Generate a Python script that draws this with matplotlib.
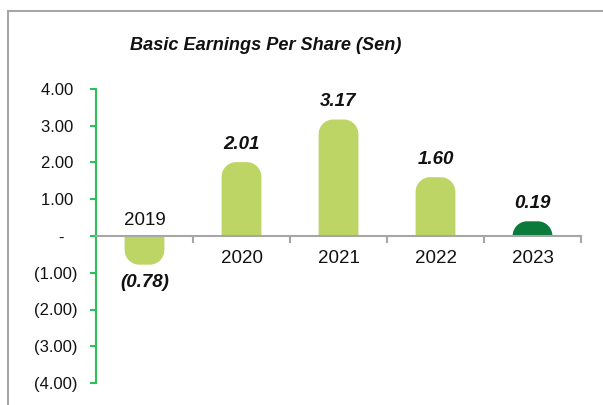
import numpy as np
import matplotlib.pyplot as plt
from matplotlib.patches import Polygon, Rectangle

plt.rcParams["font.family"] = ["Liberation Sans", "DejaVu Sans"]

years = ["2019", "2020", "2021", "2022", "2023"]
eps = [-0.78, 2.01, 3.17, 1.60, 0.19]
value_labels = ["(0.78)", "2.01", "3.17", "1.60", "0.19"]
y_ticks = [-4, -3, -2, -1, 0, 1, 2, 3, 4]
y_tick_labels = ["(4.00)", "(3.00)", "(2.00)", "(1.00)", "-   ", "1.00 ", "2.00 ", "3.00 ", "4.00 "]
bar_colors = ["#bcd565", "#bcd565", "#bcd565", "#bcd565", "#0b7a3b"]

W, H = 603, 405
fig = plt.figure(figsize=(W / 100, H / 100), dpi=100)
ax = fig.add_axes([96 / W, (H - 383) / H, (581 - 96) / W, (383 - 89) / H])
ax.set_xlim(-0.5, 4.5)
ax.set_ylim(-4, 4)

# outer chart frame (only left/top visible)
fig.patches.append(Rectangle((8 / W, -0.1), 1.2, (H - 11) / H + 0.1,
                             transform=fig.transFigure, fill=False,
                             edgecolor="#a6a6a6", linewidth=1.5))


def rounded_bar(x, h, color, w=0.41, rx=0.15, ry=0.4, min_h=0.4):
    s = 1 if h >= 0 else -1
    hh = max(abs(h), min_h)
    ry = min(ry, hh)
    left, right = x - w / 2, x + w / 2
    t = np.linspace(0, np.pi / 2, 24)
    cy = s * (hh - ry)
    pts = [(left, 0)]
    pts += list(zip(left + rx - rx * np.cos(t), cy + s * ry * np.sin(t)))
    pts += list(zip(right - rx + rx * np.cos(t[::-1]), cy + s * ry * np.sin(t[::-1])))
    pts += [(right, 0)]
    ax.add_patch(Polygon(pts, closed=True, facecolor=color, edgecolor="none", zorder=2))
    return s * hh


for i, (v, lab, c) in enumerate(zip(eps, value_labels, bar_colors)):
    top = rounded_bar(i, v, c)
    off = 13 if v >= 0 else -13
    ax.annotate(lab, (i, top), xytext=(0, off), textcoords="offset points",
                ha="center", va="center", fontsize=13.5, fontweight="bold",
                fontstyle="italic", color="#111111")
    yoff = 11 if v < 0 else -16
    ax.annotate(years[i], (i, 0), xytext=(0, yoff), textcoords="offset points",
                ha="center", va="center", fontsize=13.5, color="#111111")

for name in ["right", "top"]:
    ax.spines[name].set_visible(False)
ax.spines["left"].set(color="#2ebf5e", linewidth=1.5)
ax.spines["bottom"].set_position(("data", 0))
ax.spines["bottom"].set(color="#a6a6a6", linewidth=1.5, zorder=3)

ax.set_yticks(y_ticks, y_tick_labels, fontsize=12, color="#111111")
ax.tick_params(axis="y", direction="out", length=4, width=1.5, colors="#2ebf5e",
               labelcolor="#111111", pad=9)
for lbl in ax.get_yticklabels():
    lbl.set_horizontalalignment("right")
ax.set_xticks(np.arange(-0.5, 5, 1), [""] * 6)
ax.tick_params(axis="x", direction="out", length=5, width=1.5, colors="#a6a6a6")

fig.text(266 / W, 1 - 45 / H, "Basic Earnings Per Share (Sen)", ha="center", va="center",
         fontsize=13.1, fontweight="bold", fontstyle="italic", color="#111111")

fig.savefig("out.png", dpi=100, facecolor="white")
